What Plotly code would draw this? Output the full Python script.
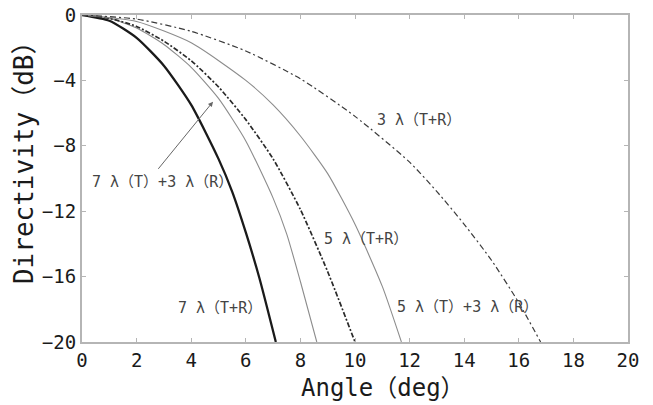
import plotly.graph_objects as go

# Two-way directivity versus angle for several transmit/receive aperture sizes
ang_7tr = [0, 1, 2, 3, 4, 5, 5.5, 6, 6.5, 7.1]
db_7tr = [0, -0.35, -1.4, -3.1, -5.5, -8.8, -10.8, -13.3, -16.1, -20]

ang_7t3r = [0, 1, 2, 3, 4, 5, 6, 7, 7.5, 8, 8.6]
db_7t3r = [0, -0.2, -0.8, -1.8, -3.2, -5.1, -7.7, -11.2, -13.4, -16.3, -20]

ang_5tr = [0, 1, 2, 3, 4, 5, 6, 7, 8, 9, 10]
db_5tr = [0, -0.2, -0.7, -1.6, -2.8, -4.4, -6.4, -8.8, -11.9, -15.7, -20]

ang_5t3r = [0, 2, 4, 6, 7, 8, 9, 10, 11, 11.7]
db_5t3r = [0, -0.4, -1.7, -4.0, -5.5, -7.4, -9.7, -12.8, -16.6, -20]

ang_3tr = [0, 2, 4, 6, 8, 10, 12, 13, 14, 15, 16, 16.8]
db_3tr = [0, -0.25, -1.0, -2.2, -3.9, -6.2, -9.0, -10.8, -12.8, -15.0, -17.6, -20]

x_ticks = [0, 2, 4, 6, 8, 10, 12, 14, 16, 18, 20]
y_ticks = [0, -4, -8, -12, -16, -20]
y_tick_text = ["0", "−4", "−8", "−12", "−16", "−20"]

series = [
    (ang_7tr, db_7tr, dict(color="#1a1a1a", width=2.3, dash="solid")),
    (ang_7t3r, db_7t3r, dict(color="#8c8c8c", width=1.1, dash="solid")),
    (ang_5tr, db_5tr, dict(color="#2a2a2a", width=1.7, dash="5px,2px,2px,2px")),
    (ang_5t3r, db_5t3r, dict(color="#8c8c8c", width=1.1, dash="solid")),
    (ang_3tr, db_3tr, dict(color="#3a3a3a", width=1.2, dash="6px,3px,2px,3px")),
]

fig = go.Figure()
for xs, ys, ln in series:
    fig.add_trace(go.Scatter(x=xs, y=ys, mode="lines",
                             line=dict(shape="spline", smoothing=0.6, **ln),
                             showlegend=False, hoverinfo="skip"))

MONO = "DejaVu Sans Mono, Noto Sans CJK JP"

label_font = dict(family=MONO, size=15, color="#444444")
labels = [
    ("3 λ（T+R）", 10.75, -6.4),
    ("7 λ（T）+3 λ（R）", 0.3, -10.2),
    ("5 λ（T+R）", 8.8, -13.7),
    ("5 λ（T）+3 λ（R）", 11.45, -17.85),
    ("7 λ（T+R）", 3.45, -17.9),
]
for txt, xv, yv in labels:
    fig.add_annotation(x=xv, y=yv, text=txt, showarrow=False,
                       xanchor="left", yanchor="middle", font=label_font)

fig.add_annotation(x=4.8, y=-5.3, ax=2.75, ay=-9.5, axref="x", ayref="y",
                   text="", showarrow=True, arrowhead=2, arrowsize=1,
                   arrowwidth=1, arrowcolor="#666666")

# axis titles placed as paper-referenced annotations
fig.add_annotation(xref="paper", yref="paper", x=0.551, y=-0.14,
                   text="Angle（deg）", showarrow=False,
                   xanchor="center", yanchor="middle",
                   font=dict(family=MONO, size=24, color="#1a1a1a"))
fig.add_annotation(xref="paper", yref="paper", x=-0.106, y=0.569,
                   text="Directivity（dB）", showarrow=False, textangle=-90,
                   xanchor="center", yanchor="middle",
                   font=dict(family=MONO, size=26, color="#1a1a1a"))

axis_font = dict(family=MONO, size=19, color="#1a1a1a")

fig.update_xaxes(range=[0, 20], tickvals=x_ticks, showgrid=False, zeroline=False,
                 showline=True, linecolor="#b5b5b5", linewidth=2, mirror="ticks",
                 ticks="inside", ticklen=4, tickcolor="#b5b5b5",
                 ticklabeloverflow="allow", automargin=False,
                 tickfont=axis_font)
fig.update_yaxes(range=[-20, 0], tickvals=y_ticks, ticktext=y_tick_text,
                 showgrid=False, zeroline=False,
                 showline=True, linecolor="#b5b5b5", linewidth=2, mirror="ticks",
                 ticks="inside", ticklen=4, tickcolor="#b5b5b5",
                 ticklabeloverflow="allow", automargin=False,
                 tickfont=axis_font)

fig.update_layout(width=653, height=405, margin=dict(l=82, r=25, t=15, b=63),
                  plot_bgcolor="white", paper_bgcolor="white")

fig.write_html("out.html")
